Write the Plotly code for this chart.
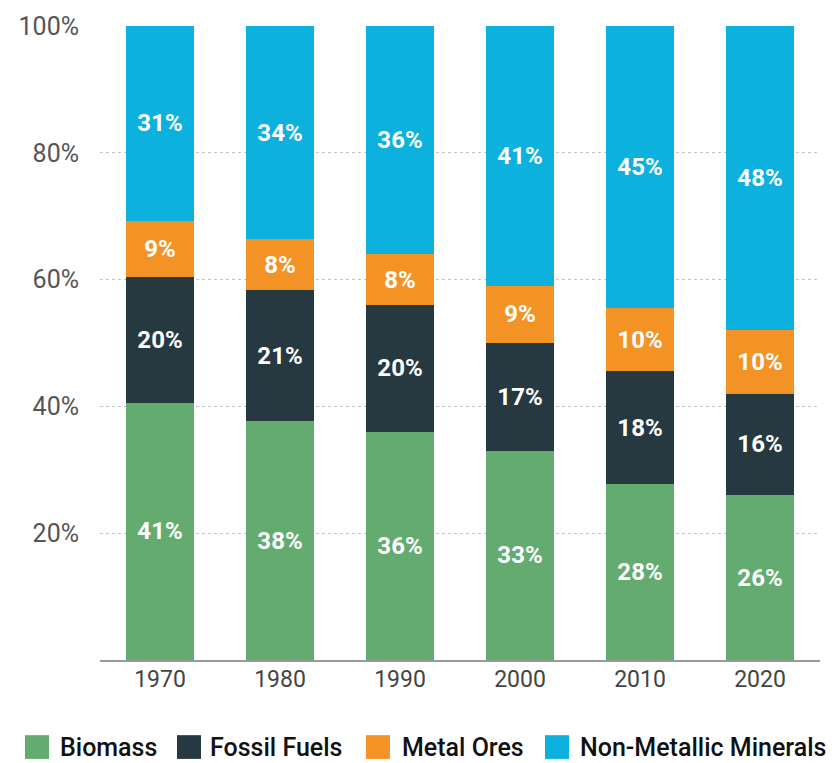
import plotly.graph_objects as go

years = ["1970", "1980", "1990", "2000", "2010", "2020"]
biomass = [41, 38, 36, 33, 28, 26]
fossil_fuels = [20, 21, 20, 17, 18, 16]
metal_ores = [9, 8, 8, 9, 10, 10]
non_metallic = [31, 34, 36, 41, 45, 48]

series = [
    ("Biomass", biomass, "#63AB6F"),
    ("Fossil Fuels", fossil_fuels, "#263840"),
    ("Metal Ores", metal_ores, "#F39325"),
    ("Non-Metallic Minerals", non_metallic, "#0DB1DE"),
]

W, H = 835, 763
M_L, M_R, M_T, M_B = 100, 15, 19, 103
PLOT_W = W - M_L - M_R
PLOT_H = H - M_T - M_B

fig = go.Figure()
for name, vals, color in series:
    fig.add_trace(go.Bar(
        name=name,
        x=years,
        y=vals,
        marker=dict(color=color, line=dict(width=0)),
        text=[f"{v}%" for v in vals],
        texttemplate="%{text}",
        textposition="inside",
        insidetextanchor="middle",
        textangle=0,
        constraintext="none",
        textfont=dict(family="Roboto", size=24, color="white", weight="bold"),
        hoverinfo="skip",
        showlegend=False,
    ))

# Legend row below the chart: swatch + label per series (pixel layout)
legend_items = [(25, 58), (177, 208), (366, 400), (545, 578)]
sw = 24
ly = 748  # vertical centre of the legend row, in pixels from the top
shapes = []
annotations = []
for (sx, tx), (name, _, color) in zip(legend_items, series):
    x0 = (sx - M_L) / PLOT_W
    x1 = (sx + sw - M_L) / PLOT_W
    y0 = (H - M_B - (ly + sw / 2)) / PLOT_H
    y1 = (H - M_B - (ly - sw / 2)) / PLOT_H
    shapes.append(dict(type="rect", xref="paper", yref="paper",
                       x0=x0, x1=x1, y0=y0, y1=y1,
                       fillcolor=color, line=dict(width=0), layer="above"))
    annotations.append(dict(
        text=name, xref="paper", yref="paper",
        x=(tx - M_L) / PLOT_W, y=(H - M_B - ly) / PLOT_H,
        xanchor="left", yanchor="middle", showarrow=False,
        font=dict(family="Roboto", size=25, color="#111", weight=500),
    ))

fig.update_layout(
    barmode="stack",
    barnorm="percent",
    bargap=0.433,
    width=W,
    height=H,
    margin=dict(l=M_L, r=M_R, t=M_T, b=M_B),
    plot_bgcolor="white",
    paper_bgcolor="white",
    font=dict(family="Roboto", color="#444"),
    showlegend=False,
    shapes=shapes,
    annotations=annotations,
    uniformtext=dict(mode=False),
)

fig.update_yaxes(
    range=[0, 100],
    tickvals=[20, 40, 60, 80, 100],
    ticktext=["20%", "40%", "60%", "80%", "100%"],
    showgrid=True,
    gridcolor="#C4C4C4",
    griddash="dot",
    gridwidth=1,
    zeroline=False,
    showline=False,
    ticks="",
    ticklabelstandoff=20,
    tickfont=dict(family="Roboto", size=25, color="#555", weight=400),
)

fig.update_xaxes(
    showline=True,
    linecolor="#999",
    linewidth=2,
    ticks="",
    showgrid=False,
    tickfont=dict(family="Roboto", size=23, color="#444", weight=400),
    ticklabelstandoff=-3,
)

fig.write_html("out.html")
